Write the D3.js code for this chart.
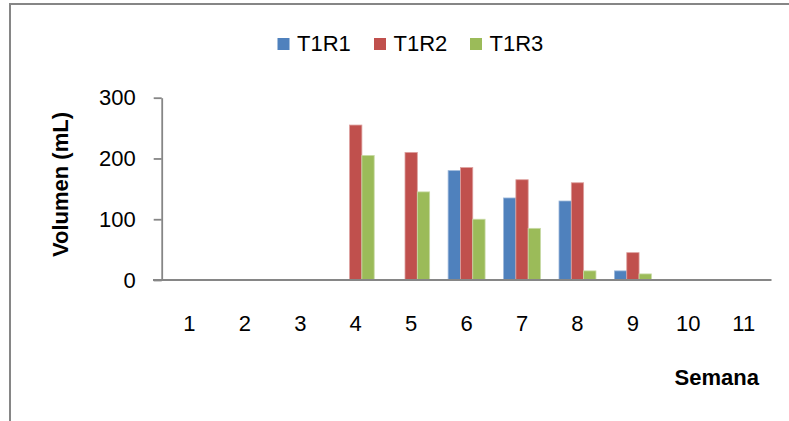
<!DOCTYPE html>
<html>
<head>
<meta charset="utf-8">
<script src="https://cdn.jsdelivr.net/npm/d3@7/dist/d3.min.js"></script>
<style>
  html, body { margin: 0; padding: 0; background: #fff; }
  svg { display: block; }
  text { font-family: "Liberation Sans", Arial, sans-serif; fill: #000; }
</style>
</head>
<body>
<svg id="chart" width="789" height="421"></svg>
<script>
// ---- data ----
const weeks = ["1", "2", "3", "4", "5", "6", "7", "8", "9", "10", "11"];
const seriesNames = ["T1R1", "T1R2", "T1R3"];
const t1r1 = [0, 0, 0, 0, 0, 180, 135, 130, 15, 0, 0];
const t1r2 = [0, 0, 0, 255, 210, 185, 165, 160, 45, 0, 0];
const t1r3 = [0, 0, 0, 205, 145, 100, 85, 15, 10, 0, 0];
const yTicks = [0, 100, 200, 300];
const yTitle = "Volumen (mL)";
const xTitle = "Semana";
const colors = ["#4F81BD", "#C0504D", "#9BBB59"];
const edgeColors = ["#9DB8DA", "#DDA09E", "#C8DAA6"];

const seriesValues = [t1r1, t1r2, t1r3];

(function () {
const svg = d3.select("#chart");

// outer chart border (cropped at right and bottom)
svg.append("rect")
  .attr("x", 10).attr("y", 4)
  .attr("width", 820).attr("height", 460)
  .attr("fill", "none")
  .attr("stroke", "#868686")
  .attr("stroke-width", 2);

const pLeft = 161.7, pRight = 771.5, pTop = 97.7, pBottom = 280;

const x0 = d3.scaleBand()
  .domain(weeks)
  .range([pLeft, pRight])
  .paddingInner(1 / 3)
  .paddingOuter(1 / 6);

const x1 = d3.scaleBand()
  .domain(seriesNames)
  .range([0, x0.bandwidth()]);

const y = d3.scaleLinear().domain([0, 300]).range([pBottom, pTop]);

// bars
const groups = svg.append("g").selectAll("g")
  .data(weeks)
  .join("g")
  .attr("transform", d => `translate(${x0(d)},0)`);

groups.selectAll("rect")
  .data((w, i) => seriesNames.map((s, j) => ({ s, j, v: seriesValues[j][i] })).filter(d => d.v > 0))
  .join("rect")
  .attr("x", d => x1(d.s))
  .attr("y", d => y(d.v))
  .attr("width", x1.bandwidth())
  .attr("height", d => y(0) - y(d.v))
  .attr("fill", d => colors[d.j])
  .attr("stroke", d => edgeColors[d.j])
  .attr("stroke-width", 0.8);

// y axis
const yAxis = svg.append("g")
  .attr("transform", `translate(${pLeft},0)`)
  .call(d3.axisLeft(y).tickValues(yTicks).tickSize(8).tickPadding(18).tickSizeOuter(0));
yAxis.select(".domain").attr("stroke", "#868686").attr("stroke-width", 1.8);
yAxis.selectAll(".tick line").attr("stroke", "#868686").attr("stroke-width", 1.8);
yAxis.selectAll(".tick text")
  .style("font-family", '"Liberation Sans", Arial, sans-serif')
  .style("font-size", "22px")
  .attr("fill", "#000");

// x axis
const xAxis = svg.append("g")
  .attr("transform", `translate(0,${pBottom})`)
  .call(d3.axisBottom(x0).tickSize(0).tickSizeOuter(0));
xAxis.select(".domain").remove();
xAxis.append("line")
  .attr("x1", pLeft - 8.7).attr("x2", pRight)
  .attr("y1", 0).attr("y2", 0)
  .attr("stroke", "#868686").attr("stroke-width", 1.8);
xAxis.selectAll(".tick text")
  .attr("y", 51).attr("dy", 0)
  .style("font-family", '"Liberation Sans", Arial, sans-serif')
  .style("font-size", "22px")
  .attr("fill", "#000");

// axis titles
svg.append("text")
  .attr("transform", `translate(68,184.5) rotate(-90)`)
  .attr("text-anchor", "middle")
  .style("font-size", "22px")
  .style("font-weight", "bold")
  .text(yTitle);

svg.append("text")
  .attr("x", 759).attr("y", 385)
  .attr("text-anchor", "end")
  .style("font-size", "22px")
  .style("font-weight", "bold")
  .text(xTitle);

// legend
const legendX = [277.5, 374, 470];
const legend = svg.append("g").selectAll("g")
  .data(seriesNames)
  .join("g")
  .attr("transform", (d, i) => `translate(${legendX[i]},38)`);
legend.append("rect")
  .attr("width", 12).attr("height", 12)
  .attr("fill", (d, i) => colors[i]);
legend.append("text")
  .attr("x", 19.5).attr("y", 13)
  .style("font-size", "22px")
  .text(d => d);
})();
</script>
</body>
</html>
